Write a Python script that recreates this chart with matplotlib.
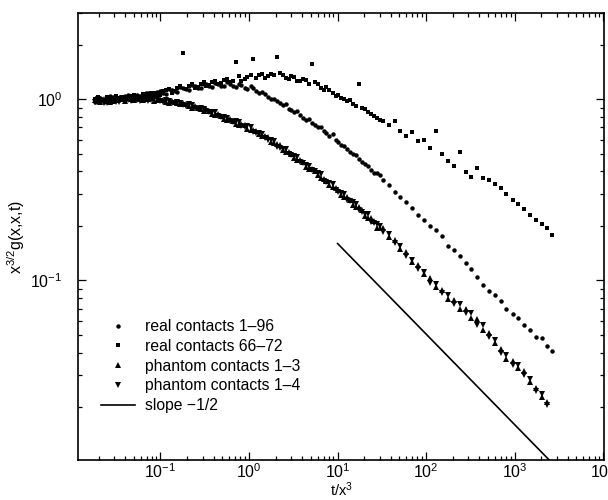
import matplotlib
matplotlib.use('Agg')
import matplotlib.pyplot as plt
from matplotlib.legend_handler import HandlerLine2D
from matplotlib.ticker import LogLocator, NullFormatter

plt.rcParams['font.family'] = ['Liberation Sans', 'DejaVu Sans']
plt.rcParams['mathtext.default'] = 'regular'

# ---------------- data ----------------
t = [0.018, 0.021, 0.025, 0.029, 0.034, 0.040, 0.046, 0.054, 0.063, 0.073,
     0.085, 0.10, 0.115, 0.135, 0.155, 0.18, 0.21, 0.245, 0.285, 0.33,
     0.385, 0.45, 0.52, 0.61, 0.71, 0.82, 0.96, 1.12, 1.3, 1.5,
     1.75, 2.05, 2.4, 2.8, 3.25, 3.8, 4.4, 5.1, 6.0, 7.0,
     8.1, 9.5, 11, 12.8, 15, 17.5, 20.5, 24, 28, 32.5,
     38, 44, 51, 60, 70, 81, 95, 110, 128, 150,
     175, 205, 240, 280, 325, 380, 440, 510, 600, 700,
     810, 950, 1100, 1280, 1500, 1750, 2050, 2350, 2650]

# second (interleaved) set of sampling times in the dense early region
t_b = [0.0195, 0.023, 0.027, 0.0315, 0.037, 0.043, 0.050, 0.058, 0.068, 0.079,
       0.092, 0.107, 0.125, 0.145, 0.167, 0.195, 0.227, 0.265, 0.307, 0.357,
       0.415, 0.485, 0.565, 0.66, 0.765, 0.89, 1.04, 1.21, 1.4, 1.62,
       1.9, 2.22, 2.6, 3.0, 3.5, 4.1, 4.75, 5.5, 6.5, 7.5,
       8.8, 10.2, 11.9, 13.9, 16.2, 19, 22, 26, 30]

real_1_96 = [0.97, 1.02, 0.98, 1.03, 0.99, 1.04, 1.00, 1.06, 1.03, 1.08,
             1.05, 1.11, 1.07, 1.13, 1.10, 1.16, 1.13, 1.19, 1.15, 1.21,
             1.17, 1.22, 1.18, 1.22, 1.17, 1.20, 1.14, 1.15, 1.08, 1.07,
             1.00, 0.98, 0.93, 0.88, 0.85, 0.82, 0.77, 0.74, 0.70, 0.67,
             0.63, 0.60, 0.56, 0.53, 0.50, 0.47, 0.44, 0.41, 0.39, 0.36,
             0.335, 0.31, 0.29, 0.27, 0.25, 0.23, 0.215, 0.20, 0.19, 0.175,
             0.155, 0.148, 0.137, 0.125, 0.115, 0.105, 0.095, 0.088, 0.083, 0.077,
             0.070, 0.065, 0.062, 0.057, 0.053, 0.049, 0.048, 0.0435, 0.041]
real_1_96_b = [1.00, 0.97, 1.04, 1.00, 1.02, 1.06, 1.02, 1.05, 1.09, 1.06,
               1.10, 1.08, 1.14, 1.11, 1.17, 1.14, 1.20, 1.16, 1.22, 1.18,
               1.23, 1.19, 1.24, 1.19, 1.22, 1.16, 1.18, 1.11, 1.10, 1.03,
               1.01, 0.95, 0.94, 0.87, 0.86, 0.79, 0.78, 0.72, 0.70, 0.65,
               0.64, 0.58, 0.55, 0.51, 0.49, 0.45, 0.43, 0.39, 0.38]

real_66_72 = [1.00, 0.97, 1.03, 0.99, 1.02, 0.98, 1.05, 1.02, 1.07, 1.04,
              1.09, 1.06, 1.12, 1.09, 1.16, 1.80, 1.19, 1.15, 1.22, 1.18,
              1.25, 1.21, 1.28, 1.24, 1.60, 1.27, 1.33, 1.67, 1.36, 1.31,
              1.38, 1.71, 1.36, 1.30, 1.33, 1.26, 1.28, 1.56, 1.21, 1.13,
              1.12, 1.04, 1.02, 0.975, 0.94, 1.21, 0.88, 0.83, 0.79, 0.76,
              0.72, 0.76, 0.67, 0.625, 0.66, 0.59, 0.60, 0.54, 0.67, 0.50,
              0.455, 0.43, 0.51, 0.395, 0.375, 0.42, 0.37, 0.36, 0.34, 0.325,
              0.30, 0.28, 0.265, 0.248, 0.23, 0.215, 0.205, 0.195, 0.178]
real_66_72_b = [1.03, 0.99, 1.01, 1.04, 1.00, 1.03, 1.06, 1.03, 1.05, 1.09,
                1.07, 1.11, 1.14, 1.11, 1.18, 1.14, 1.21, 1.17, 1.24, 1.20,
                1.27, 1.23, 1.30, 1.26, 1.34, 1.29, 1.36, 1.32, 1.39, 1.34,
                1.36, 1.40, 1.31, 1.35, 1.27, 1.30, 1.22, 1.24, 1.15, 1.17,
                1.08, 1.06, 1.00, 0.99, 0.92, 0.90, 0.85, 0.81, 0.77]

phantom_1_3 = [0.99, 0.97, 1.00, 0.98, 1.01, 0.98, 1.00, 1.02, 0.99, 1.01,
               0.98, 1.00, 0.97, 0.98, 0.95, 0.955, 0.92, 0.92, 0.88, 0.88,
               0.835, 0.83, 0.78, 0.78, 0.735, 0.73, 0.69, 0.68, 0.64, 0.63,
               0.585, 0.565, 0.525, 0.51, 0.475, 0.46, 0.425, 0.415, 0.38, 0.365,
               0.335, 0.325, 0.295, 0.29, 0.26, 0.255, 0.226, 0.22, 0.196, 0.194,
               0.174, 0.168, 0.149, 0.143, 0.126, 0.121, 0.108, 0.103, 0.092, 0.089,
               0.079, 0.078, 0.070, 0.070, 0.062, 0.061, 0.053, 0.051, 0.045, 0.042,
               0.037, 0.036, 0.033, 0.0318, 0.0275, 0.0255, 0.0228, 0.0213]
phantom_1_3_b = [0.98, 1.00, 0.97, 0.99, 1.00, 1.02, 0.99, 1.01, 1.00, 1.02,
                 0.99, 0.99, 0.96, 0.97, 0.94, 0.94, 0.90, 0.90, 0.86, 0.86,
                 0.82, 0.81, 0.77, 0.76, 0.72, 0.72, 0.68, 0.67, 0.63, 0.62,
                 0.575, 0.56, 0.515, 0.50, 0.465, 0.45, 0.415, 0.40, 0.37, 0.355,
                 0.33, 0.315, 0.29, 0.28, 0.255, 0.245, 0.222, 0.212, 0.195]

phantom_1_4 = [0.97, 0.99, 0.96, 1.00, 0.97, 1.01, 0.98, 0.99, 1.01, 0.98,
               1.01, 0.98, 0.99, 0.96, 0.97, 0.935, 0.94, 0.90, 0.90, 0.86,
               0.855, 0.81, 0.80, 0.76, 0.755, 0.71, 0.71, 0.66, 0.65, 0.61,
               0.595, 0.545, 0.535, 0.50, 0.485, 0.45, 0.435, 0.405, 0.39, 0.355,
               0.345, 0.315, 0.305, 0.28, 0.27, 0.245, 0.234, 0.21, 0.204, 0.186,
               0.18, 0.162, 0.155, 0.137, 0.13, 0.115, 0.112, 0.097, 0.096, 0.085,
               0.083, 0.074, 0.074, 0.066, 0.066, 0.057, 0.057, 0.049, 0.047, 0.040,
               0.039, 0.034, 0.034, 0.030, 0.0285, 0.0245, 0.0235, 0.0205]
phantom_1_4_b = [1.00, 0.96, 0.99, 0.97, 1.02, 0.99, 1.01, 0.98, 1.02, 0.99,
                 1.01, 0.97, 0.98, 0.95, 0.96, 0.92, 0.93, 0.89, 0.89, 0.85,
                 0.85, 0.80, 0.79, 0.75, 0.75, 0.70, 0.70, 0.655, 0.645, 0.60,
                 0.59, 0.54, 0.53, 0.49, 0.48, 0.445, 0.43, 0.40, 0.385, 0.35,
                 0.34, 0.31, 0.30, 0.275, 0.265, 0.24, 0.232, 0.207, 0.20]

slope_x = [10.0, 2560.0]
slope_y = [0.16, 0.01]

labels = ['real contacts 1\u201396', 'real contacts 66\u201372',
          'phantom contacts 1\u20133', 'phantom contacts 1\u20134',
          'slope \u22121/2']
xlabel = 't/x$^3$'
ylabel = 'x$^{3/2}$g(x,x,t)'


class RightMarkerHandler(HandlerLine2D):
    def get_xdata(self, legend, xdescent, ydescent, width, height, fontsize):
        xdata = [-xdescent, -xdescent + width]
        xdata_marker = [-xdescent + 0.95 * width]
        return xdata, xdata_marker


def both(a_x, a_y, b_x, b_y):
    return list(a_x[:len(a_y)]) + list(b_x[:len(b_y)]), list(a_y) + list(b_y)


fig = plt.figure(figsize=(6.08, 5.0), dpi=100)
ax = fig.add_axes([78 / 608, 40 / 500, 526 / 608, 447 / 500])

x1, y1 = both(t, real_1_96, t_b, real_1_96_b)
x2, y2 = both(t, real_66_72, t_b, real_66_72_b)
x3, y3 = both(t, phantom_1_3, t_b, phantom_1_3_b)
x4, y4 = both(t, phantom_1_4, t_b, phantom_1_4_b)

l1, = ax.plot(x1, y1, 'o', ms=3.2, color='black', mew=0, label=labels[0])
l2, = ax.plot(x2, y2, 's', ms=3.3, color='black', mew=0, label=labels[1])
l3, = ax.plot(x3, y3, '^', ms=3.9, color='black', mew=0, label=labels[2])
l4, = ax.plot(x4, y4, 'v', ms=3.9, color='black', mew=0, label=labels[3])
l5, = ax.plot(slope_x, slope_y, '-', lw=1.2, color='black', label=labels[4])

ax.set_xscale('log')
ax.set_yscale('log')
ax.set_xlim(0.0117, 10230)
ax.set_ylim(0.0102, 3.0)

ax.xaxis.set_minor_locator(LogLocator(base=10, subs=range(2, 10), numticks=20))
ax.yaxis.set_minor_locator(LogLocator(base=10, subs=range(2, 10), numticks=20))
ax.xaxis.set_minor_formatter(NullFormatter())
ax.yaxis.set_minor_formatter(NullFormatter())

ax.tick_params(which='both', direction='in', top=True, right=True,
               labelsize=11.5, width=0.9)
ax.tick_params(which='major', length=6)
ax.tick_params(which='minor', length=3)
ax.tick_params(axis='y', which='major', pad=11)
ax.tick_params(axis='x', which='major', pad=2)

for s in ax.spines.values():
    s.set_linewidth(1.2)

ax.set_xlabel(xlabel, fontsize=10.5)
ax.set_ylabel(ylabel, fontsize=11.5)
ax.xaxis.set_label_coords(0.5, -0.046)
ax.yaxis.set_label_coords(-0.097, 0.5)

leg = ax.legend(handles=[l1, l2, l3, l4, l5], loc='upper left',
                bbox_to_anchor=(0.031, 0.329), borderaxespad=0,
                frameon=False, fontsize=11.3, handlelength=2.2,
                handletextpad=0.6, labelspacing=0.3, numpoints=1,
                handler_map={l1: RightMarkerHandler(), l2: RightMarkerHandler(),
                             l3: RightMarkerHandler(), l4: RightMarkerHandler()})

fig.savefig('out.png', dpi=100)
